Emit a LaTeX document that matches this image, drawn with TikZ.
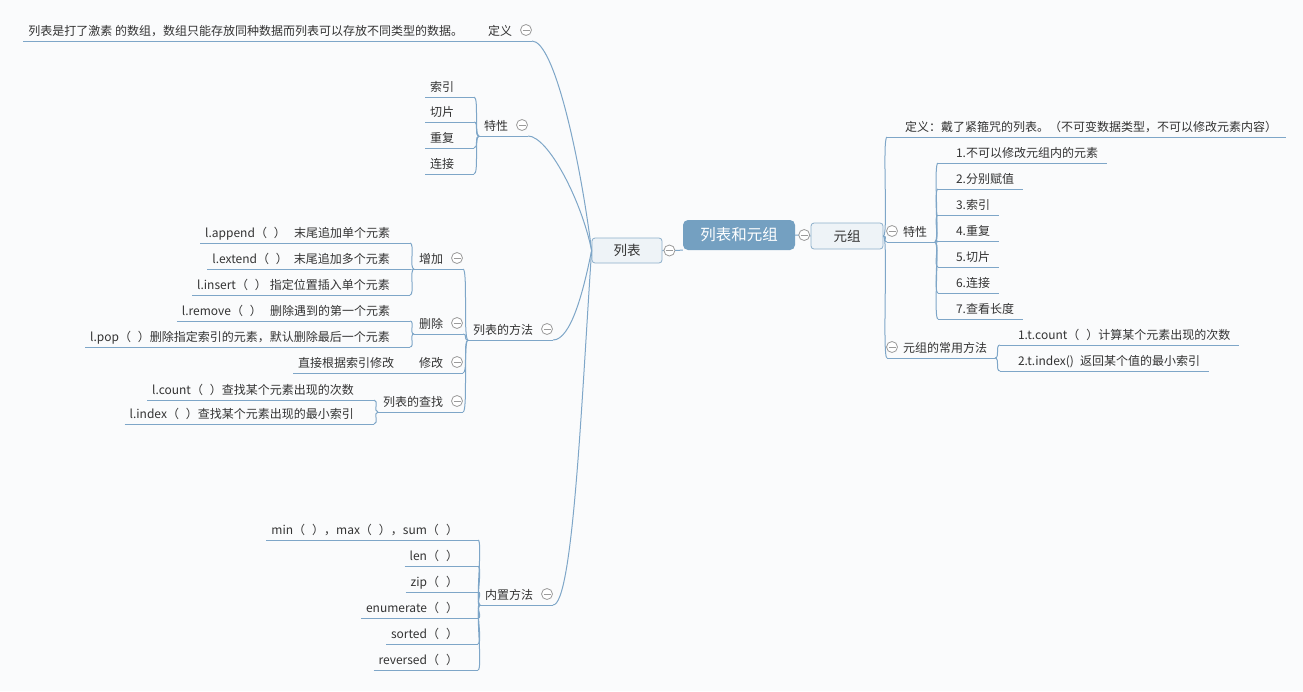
\documentclass[tikz,border=0pt]{standalone}
\usepackage{fontspec}
\setmainfont{Noto Sans CJK SC}

\definecolor{bgc}{HTML}{FAFBFC}
\definecolor{linec}{HTML}{7EA6C8}
\definecolor{rootc}{HTML}{74A0C1}
\definecolor{boxf}{HTML}{EEF3F7}
\definecolor{boxd}{HTML}{8DAFCA}
\definecolor{txt}{HTML}{333333}
\definecolor{foldc}{HTML}{9B9B9B}

\newcommand{\kh}{（\hspace{7pt}）}

\tikzset{
  branch/.style={draw=linec,line width=1pt},
  topic/.style={inner sep=0pt,outer sep=0pt,text=txt,
    font=\fontsize{12}{14}\selectfont,text height=12pt,text depth=6pt},
  lt/.style={topic,anchor=south east,
    execute at begin node={\hspace*{5pt}},execute at end node={\hspace*{20pt}}},
  rt/.style={topic,anchor=south west,
    execute at begin node={\hspace*{18pt}},execute at end node={\hspace*{9pt}}},
  rtf/.style={topic,anchor=south west,
    execute at begin node={\hspace*{16pt}},execute at end node={\hspace*{8pt}}},
  root/.style={rectangle,rounded corners=5pt,fill=rootc,text=white,
    minimum width=112pt,minimum height=30pt,font=\fontsize{15.5}{18}\selectfont},
  main/.style={rectangle,rounded corners=3pt,draw=boxd,fill=boxf,text=txt,
    line width=0.8pt,font=\fontsize{13.5}{16}\selectfont},
  fold/.style={circle,draw=foldc,fill=white,minimum size=11pt,inner sep=0pt,
    line width=0.8pt,path picture={\draw[foldc,line width=0.8pt]
      ([xshift=-3.5pt]path picture bounding box.center) --
      ([xshift=3.5pt]path picture bounding box.center);}}
}

\begin{document}
\begin{tikzpicture}[x=1pt,y=-1pt]

\fill[bgc] (0,0) rectangle (1303,691);
\useasboundingbox (0,0) rectangle (1303,691);

% central topics
\node[root] (root) at (739,235) {列表和元组};
\node[main,minimum width=70pt,minimum height=25pt] (lb) at (627,250.5) {列表};
\node[main,minimum width=72pt,minimum height=26pt] (yz) at (847,236) {元组};

\begin{scope} % left side: 列表
  \node[lt] (dy) at (532,41) {定义};
  \node[lt] (dyt) at (dy.south west)
    {列表是打了激素 的数组，数组只能存放同种数据而列表可以存放不同类型的数据。};

  \node[lt] (tx) at (528,136) {特性};
  \foreach \n/\y/\t in {sy/97/索引,qp/122/切片,cf/148/重复,lj/174/连接}
    \node[lt] (\n) at (474,\y) {\t};

  \node[lt] (ff) at (553,340) {列表的方法};
  \node[lt] (zj) at (463,269) {增加};
  \node[lt] (append) at (410,243) {l.append\kh\hspace{8pt}末尾追加单个元素};
  \node[lt] (extend) at (410,269) {l.extend\kh\hspace{6pt}末尾追加多个元素};
  \node[lt] (insert) at (410,295) {l.insert\kh\hspace{3pt}指定位置插入单个元素};
  \node[lt] (sc) at (463,334) {删除};
  \node[lt] (remove) at (410,321) {l.remove\kh\hspace{8pt}删除遇到的第一个元素};
  \node[lt] (pop) at (410,347) {l.pop\kh 删除指定索引的元素，默认删除最后一个元素};
  \node[lt] (xg) at (463,373) {修改};
  \node[lt] (xgt) at (xg.south west) {直接根据索引修改};
  \node[lt] (cz) at (463,412) {列表的查找};
  \node[lt] (count) at (374,400) {l.count\kh 查找某个元素出现的次数};
  \node[lt] (index) at (374,424) {l.index\kh 查找某个元素出现的最小索引};

  \node[lt] (nz) at (553,605) {内置方法};
  \node[lt] (minmax) at (478,540) {min\kh，max\kh，sum\kh};
  \node[lt] (len) at (478,566) {len\kh};
  \node[lt] (zip) at (478,592) {zip\kh};
  \node[lt] (enum) at (478,618) {enumerate\kh};
  \node[lt] (sorted) at (478,644) {sorted\kh};
  \node[lt] (rev) at (478,670) {reversed\kh};
\end{scope}

\begin{scope} % right side: 元组
  \node[rt] (ydy) at (887,137) {定义：戴了紧箍咒的列表。（不可变数据类型，不可以修改元素内容）};
  \node[rtf] (ytx) at (887,242) {特性};
  \node[rt] (t1) at (938,163) {1.不可以修改元组内的元素};
  \node[rt] (t2) at (938,189) {2.分别赋值};
  \node[rt] (t3) at (938,215) {3.索引};
  \node[rt] (t4) at (938,241) {4.重复};
  \node[rt] (t5) at (938,267) {5.切片};
  \node[rt] (t6) at (938,293) {6.连接};
  \node[rt] (t7) at (938,319) {7.查看长度};
  \node[rtf] (yff) at (887,358) {元组的常用方法};
  \node[rt] (tc) at (1000,345) {1.t.count\kh 计算某个元素出现的次数};
  \node[rt] (ti) at (1000,371) {2.t.index()\hspace{6pt}返回某个值的最小索引};
\end{scope}

\begin{scope}[branch] % connectors
  \draw (lb.east) -- (root.south west);
  \draw (root.east) -- (yz.west);

  \draw (dy.south east) .. controls +(22,0) and +(-12,-95) .. (lb.west);
  \draw (tx.south east) .. controls +(20,0) and +(-10,-50) .. (lb.west);
  \draw (ff.south east) .. controls +(18,0) and +(-8,40) .. (lb.west);
  \draw (nz.south east) .. controls +(20,0) and +(-10,150) .. (lb.west);

  % underlines
  \foreach \n in {dy,dyt,tx,sy,qp,cf,lj,ff,zj,append,extend,insert,sc,remove,
      pop,xg,xgt,cz,count,index,nz,minmax,len,zip,enum,sorted,rev,
      ydy,ytx,t1,t2,t3,t4,t5,t6,t7,yff,tc,ti}
    \draw (\n.south west) -- (\n.south east);

  % brackets
  \foreach \p/\c in {tx/sy,tx/qp,tx/cf,tx/lj,ff/zj,ff/sc,ff/xg,ff/cz,
      zj/append,zj/extend,zj/insert,sc/remove,sc/pop,cz/count,cz/index,
      nz/minmax,nz/len,nz/zip,nz/enum,nz/sorted,nz/rev}
    \draw (\p.south west) .. controls +(-5,0) and +(5,0) .. (\c.south east);
  \foreach \c in {ydy,ytx,yff}
    \draw (yz.east) .. controls +(5,0) and +(-5,0) .. (\c.south west);
  \foreach \c in {t1,t2,t3,t4,t5,t6,t7}
    \draw (ytx.south east) .. controls +(5,0) and +(-5,0) .. (\c.south west);
  \foreach \c in {tc,ti}
    \draw (yff.south east) .. controls +(5,0) and +(-5,0) .. (\c.south west);
\end{scope}

\begin{scope} % fold marks
  \node[fold] (lb-f) at ([xshift=7pt]lb.east) {};
  \node[fold] (root-f) at ([xshift=9pt]root.east) {};
  \foreach \n in {dy,tx,ff,zj,sc,xg,cz,nz}
    \node[fold] (\n-f) at ([xshift=-6pt,yshift=11pt]\n.south east) {};
  \foreach \n in {ytx,yff}
    \node[fold] (\n-f) at ([xshift=5pt,yshift=11pt]\n.south west) {};
\end{scope}

\end{tikzpicture}
\end{document}
